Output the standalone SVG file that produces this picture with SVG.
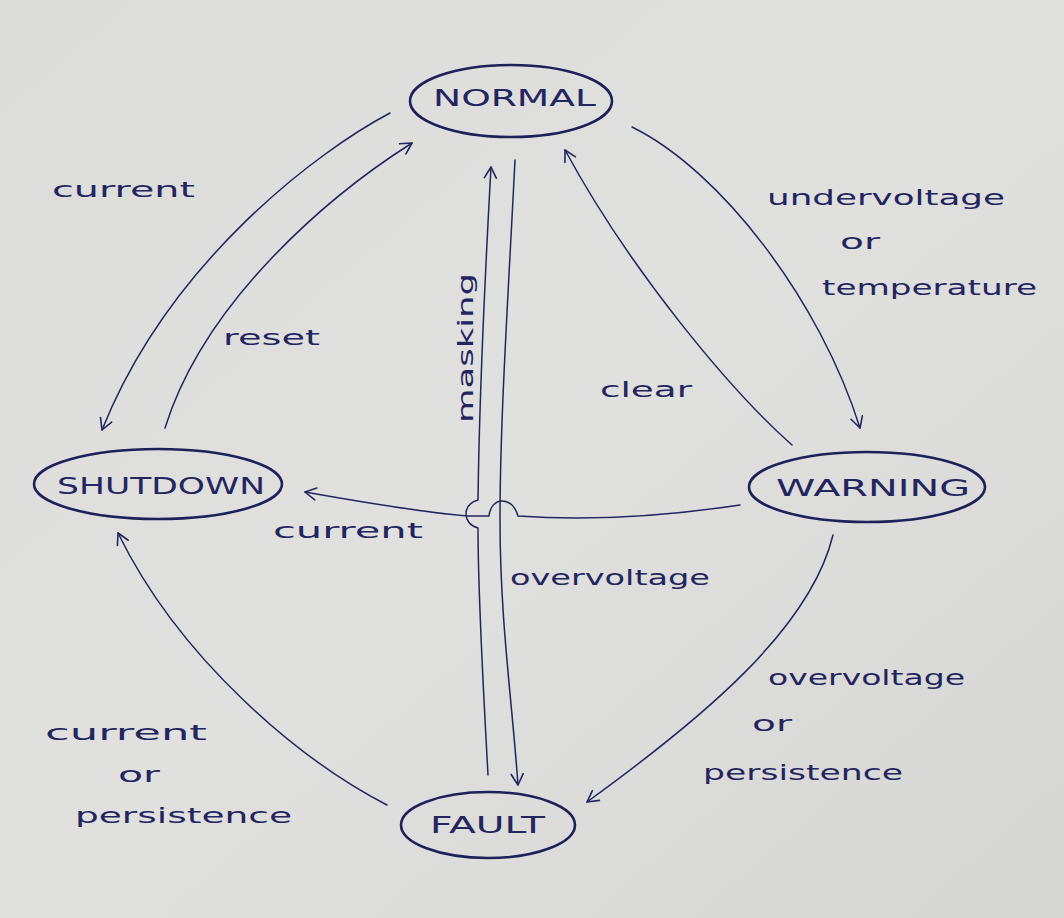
<svg xmlns="http://www.w3.org/2000/svg" width="1064" height="918" viewBox="0 0 1064 918">
  <defs>
    <linearGradient id="paper" x1="0" y1="0" x2="1" y2="1">
      <stop offset="0" stop-color="#dcdcdb"/>
      <stop offset="0.5" stop-color="#e0e0df"/>
      <stop offset="1" stop-color="#d6d6d4"/>
    </linearGradient>
    <marker id="arr" markerUnits="userSpaceOnUse" markerWidth="20" markerHeight="20" refX="12" refY="7" orient="auto">
      <path d="M1,1 L12,7 L1,13" fill="none" stroke="#23255e" stroke-width="1.6" stroke-linecap="round" stroke-linejoin="round"/>
    </marker>
    <style>
      .node ellipse { fill: none; stroke: #1e2058; stroke-width: 2.6; }
      .node text { font-family: "DejaVu Sans", "Liberation Sans", sans-serif; font-size: 23px; fill: #23255e; }
      .edge { fill: none; stroke: #23255e; stroke-width: 1.5; stroke-linecap: round; stroke-linejoin: round; }
      .lbl { font-family: "DejaVu Sans", "Liberation Sans", sans-serif; font-size: 22px; fill: #23255e; }
    </style>
  </defs>
  <rect x="0" y="0" width="1064" height="918" fill="url(#paper)"/>

  <g id="connectors">
    <!-- NORMAL -> SHUTDOWN (current) -->
    <path class="edge" d="M390,113 C320,150 170,260 102,430" marker-end="url(#arr)"/>
    <!-- SHUTDOWN -> NORMAL (reset) -->
    <path class="edge" d="M165,428 C205,300 330,195 412,143" marker-end="url(#arr)"/>
    <!-- NORMAL -> WARNING -->
    <path class="edge" d="M632,127 C720,170 820,300 860,428" marker-end="url(#arr)"/>
    <!-- WARNING -> NORMAL (clear) -->
    <path class="edge" d="M792,445 C730,390 630,270 565,150" marker-end="url(#arr)"/>
    <!-- FAULT -> NORMAL (masking) with jump -->
    <path class="edge" d="M488,775 C484,700 478,600 478,528 C470,526 466,520 466,514 C466,507 471,502 478,500 C479,420 482,330 491,167" marker-end="url(#arr)"/>
    <!-- NORMAL -> FAULT (overvoltage) -->
    <path class="edge" d="M515,160 C508,300 500,420 500,520 C500,620 512,700 518,785" marker-end="url(#arr)"/>
    <!-- WARNING -> SHUTDOWN (current) with hump -->
    <path class="edge" d="M740,505 C680,514 600,522 518,516 C515,506 509,501 502,501 C495,501 490,507 489,516 L467,516 C420,512 350,500 305,492" marker-end="url(#arr)"/>
    <!-- WARNING -> FAULT -->
    <path class="edge" d="M833,535 C810,630 700,720 587,802" marker-end="url(#arr)"/>
    <!-- FAULT -> SHUTDOWN -->
    <path class="edge" d="M387,805 C300,760 180,660 118,533" marker-end="url(#arr)"/>
  </g>

  <g id="labels">
    <text class="lbl" x="52" y="197" textLength="143" lengthAdjust="spacingAndGlyphs">current</text>
    <text class="lbl" x="223" y="345" textLength="97" lengthAdjust="spacingAndGlyphs">reset</text>
    <text class="lbl" transform="translate(473,423) rotate(-90)" x="0" y="0" textLength="150" lengthAdjust="spacingAndGlyphs">masking</text>
    <text class="lbl" x="600" y="397" textLength="92" lengthAdjust="spacingAndGlyphs">clear</text>
    <text class="lbl" x="767" y="205" textLength="238" lengthAdjust="spacingAndGlyphs">undervoltage</text>
    <text class="lbl" x="840" y="249" textLength="40" lengthAdjust="spacingAndGlyphs">or</text>
    <text class="lbl" x="822" y="295" textLength="215" lengthAdjust="spacingAndGlyphs">temperature</text>
    <text class="lbl" x="273" y="538" textLength="150" lengthAdjust="spacingAndGlyphs">current</text>
    <text class="lbl" x="510" y="585" textLength="200" lengthAdjust="spacingAndGlyphs">overvoltage</text>
    <text class="lbl" x="768" y="685" textLength="197" lengthAdjust="spacingAndGlyphs">overvoltage</text>
    <text class="lbl" x="752" y="731" textLength="40" lengthAdjust="spacingAndGlyphs">or</text>
    <text class="lbl" x="703" y="780" textLength="200" lengthAdjust="spacingAndGlyphs">persistence</text>
    <text class="lbl" x="45" y="740" textLength="162" lengthAdjust="spacingAndGlyphs">current</text>
    <text class="lbl" x="118" y="782" textLength="42" lengthAdjust="spacingAndGlyphs">or</text>
    <text class="lbl" x="75" y="823" textLength="217" lengthAdjust="spacingAndGlyphs">persistence</text>
  </g>

  <g id="node-normal" class="node">
    <ellipse cx="511" cy="101" rx="101" ry="36"/>
    <text x="433" y="106" textLength="163" lengthAdjust="spacingAndGlyphs">NORMAL</text>
  </g>
  <g id="node-shutdown" class="node">
    <ellipse cx="158" cy="484" rx="124" ry="35"/>
    <text x="57" y="494" textLength="208" lengthAdjust="spacingAndGlyphs">SHUTDOWN</text>
  </g>
  <g id="node-warning" class="node">
    <ellipse cx="867" cy="487" rx="118" ry="35"/>
    <text x="776" y="496" textLength="194" lengthAdjust="spacingAndGlyphs">WARNING</text>
  </g>
  <g id="node-fault" class="node">
    <ellipse cx="488" cy="825" rx="87" ry="33"/>
    <text x="430" y="833" textLength="115" lengthAdjust="spacingAndGlyphs">FAULT</text>
  </g>
</svg>
